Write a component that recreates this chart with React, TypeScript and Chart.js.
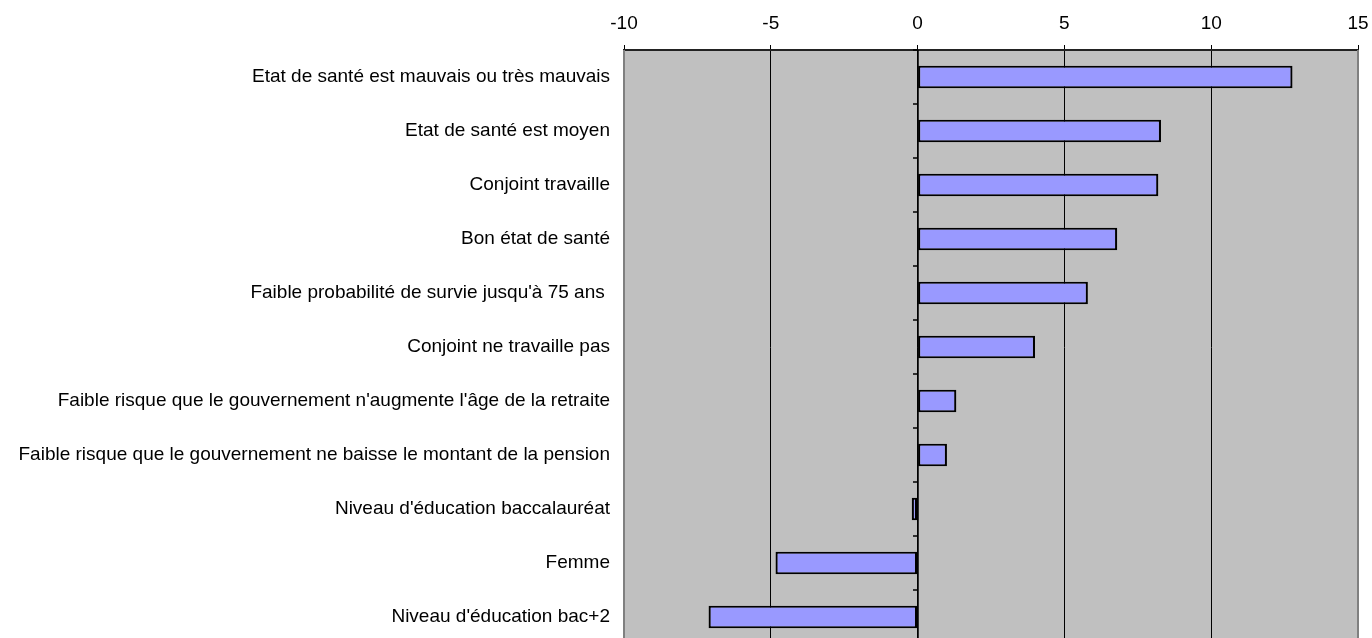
import React, { useEffect, useRef } from "react";
import { Chart, registerables } from "chart.js";

Chart.register(...registerables);

const categories = [
  "Etat de santé est mauvais ou très mauvais",
  "Etat de santé est moyen",
  "Conjoint travaille",
  "Bon état de santé",
  "Faible probabilité de survie jusqu'à 75 ans ",
  "Conjoint ne travaille pas",
  "Faible risque que le gouvernement n'augmente l'âge de la retraite",
  "Faible risque que le gouvernement ne baisse le montant de la pension",
  "Niveau d'éducation baccalauréat",
  "Femme",
  "Niveau d'éducation bac+2",
];

const values = [12.77, 8.29, 8.2, 6.8, 5.8, 4.0, 1.32, 1.0, -0.2, -4.84, -7.12];

const xMin = -10;
const xMax = 15;
const xStep = 5;

const FONT = "'Liberation Sans', Arial, sans-serif";

const plotDecor = {
  id: "plotDecor",
  beforeDraw(chart: any) {
    const { ctx, chartArea } = chart;
    ctx.save();
    ctx.fillStyle = "#C0C0C0";
    ctx.fillRect(chartArea.left, chartArea.top, chartArea.right - chartArea.left, chartArea.bottom - chartArea.top);
    ctx.restore();
  },
  afterDatasetsDraw(chart: any) {
    const { ctx, chartArea, scales } = chart;
    const xs = scales.x;
    const ys = scales.y;
    const x0 = Math.round(xs.getPixelForValue(0));
    ctx.save();
    ctx.strokeStyle = "#000";
    ctx.lineWidth = 1.5;
    ctx.beginPath();
    ctx.moveTo(x0, chartArea.top);
    ctx.lineTo(x0, chartArea.bottom);
    ctx.stroke();
    // category boundary ticks on zero axis
    const n = categories.length;
    const step = (chartArea.bottom - chartArea.top) / n;
    for (let i = 0; i <= n; i++) {
      const y = Math.round(ys.getPixelForValue(0) - step / 2 + i * step);
      ctx.beginPath();
      ctx.moveTo(x0 - 5, y);
      ctx.lineTo(x0, y);
      ctx.stroke();
    }
    // left/right borders
    ctx.strokeStyle = "#808080";
    ctx.lineWidth = 2;
    ctx.beginPath();
    ctx.moveTo(chartArea.left, chartArea.top);
    ctx.lineTo(chartArea.left, chartArea.bottom);
    ctx.moveTo(chartArea.right, chartArea.top);
    ctx.lineTo(chartArea.right, chartArea.bottom);
    ctx.stroke();
    ctx.restore();
  },
};

export default function App() {
  const ref = useRef<HTMLCanvasElement | null>(null);

  useEffect(() => {
    if (!ref.current) return;
    const chart = new Chart(ref.current, {
      type: "bar",
      data: {
        labels: categories,
        datasets: [
          {
            data: values,
            backgroundColor: "#9999FF",
            borderColor: "#000000",
            borderWidth: 2.2,
            borderSkipped: false,
            barPercentage: 0.42,
            categoryPercentage: 1,
          },
        ],
      },
      options: {
        indexAxis: "y",
        animation: false,
        responsive: true,
        maintainAspectRatio: false,
        layout: { padding: { left: 0, right: 14, top: 0, bottom: 2 } },
        plugins: {
          legend: { display: false },
          tooltip: { enabled: false },
        },
        scales: {
          x: {
            type: "linear",
            position: "top",
            min: xMin,
            max: xMax,
            ticks: {
              stepSize: xStep,
              color: "#000",
              font: { family: FONT, size: 19 },
              padding: 10,
            },
            grid: {
              color: (c: any) =>
                c.tick && (c.tick.value === xMin || c.tick.value === xMax) ? "#808080" : "#000",
              lineWidth: 1,
              tickLength: 5,
              tickColor: "#000",
              drawOnChartArea: true,
            },
            border: { display: true, color: "#222", width: 2 },
            afterFit: (s: any) => {
              s.height = 50;
              s.paddingLeft = 0;
              s.paddingRight = 0;
              s.paddingTop = 0;
              s.paddingBottom = 0;
            },
          },
          y: {
            type: "category",
            position: "left",
            ticks: {
              color: "#000",
              font: { family: FONT, size: 19 },
              padding: 14,
              autoSkip: false,
            },
            grid: { display: false, drawTicks: false },
            border: { display: false },
            afterFit: (s: any) => {
              s.width = 624;
              s.paddingLeft = 0;
              s.paddingRight = 0;
              s.paddingTop = 0;
              s.paddingBottom = 0;
            },
          },
        },
      },
      plugins: [plotDecor],
    });
    return () => chart.destroy();
  }, []);

  return (
    <div style={{ position: "fixed", left: 0, top: 0, width: 1372, height: 646, background: "#fff" }}>
      <canvas ref={ref} />
    </div>
  );
}
